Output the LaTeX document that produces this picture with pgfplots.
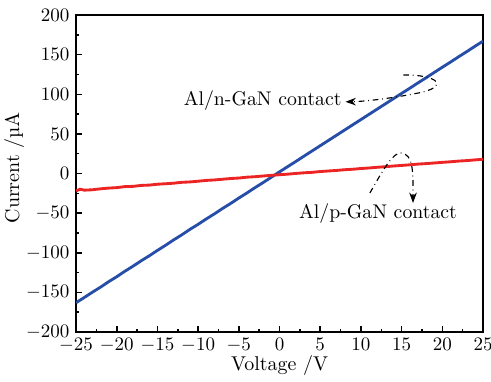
\documentclass[border=0pt]{standalone}
\usepackage{fontspec}
\usepackage{pgfplots}
\pgfplotsset{compat=1.18}
\usetikzlibrary{arrows.meta}
\definecolor{myblue}{RGB}{38,78,168}
\definecolor{myred}{RGB}{236,36,36}
\begin{document}
\begin{tikzpicture}
\begin{axis}[name=ax,
  scale only axis, width=214pt, height=166.7pt,
  xmin=-25, xmax=25, ymin=-200, ymax=200,
  xtick={-25,-20,...,25}, ytick={-200,-150,...,200},
  minor x tick num=1, minor y tick num=1,
  tick align=inside, xtick pos=left, ytick pos=left,
  major tick length=3pt, minor tick length=1.8pt,
  axis line style={line width=1pt}, every tick/.style={line width=0.8pt,black},
  xlabel={Voltage /V}, ylabel={Current /µA},
  label style={font=\fontsize{10.5}{12}\selectfont},
  xlabel style={at={([yshift=-20.3pt]axis description cs:0.5,0)}, anchor=base, inner sep=1pt},
  ylabel style={at={([xshift=-32.6pt,yshift=3pt]axis description cs:0,0.5)}, anchor=center},
  tick label style={font=\fontsize{10.4}{12}\selectfont},
  xticklabel style={yshift=-1.2pt, inner sep=2pt},
]
\addplot[myblue, line width=1.5pt] coordinates {
(-25,-163) (-24,-156.5) (-23,-149.8) (-22,-143.4) (-21,-136.5) (-20,-130.2) (-19,-123.3) (-18,-116.9) (-17,-110.1) (-16,-103.8) (-15,-97) (-14,-90.5) (-13,-83.7) (-12,-77.3) (-11,-70.4) (-10,-64.1) (-9,-57.3) (-8,-50.9) (-7,-44.1) (-6,-37.7) (-5,-30.9) (-4,-24.5) (-3,-17.7) (-2,-11.3) (-1,-4.6) (0,2.1) (1,8.7) (2,15.2) (3,21.9) (4,28.5) (5,35.1) (6,41.7) (7,48.3) (8,54.9) (9,61.5) (10,68.1) (11,74.7) (12,81.3) (13,87.9) (14,94.5) (15,101.1) (16,107.6) (17,114.3) (18,120.8) (19,127.5) (20,134.1) (21,140.6) (22,147.3) (23,153.8) (24,160.5) (25,167)
};
\addplot[myred, line width=1.5pt] coordinates {
(-25,-22) (-24.5,-19.8) (-24,-21) (-23,-20.5) (-22,-19.3) (-21,-18.4) (-20,-17.8) (-19,-16.5) (-18,-16.2) (-17,-15) (-16,-14.6) (-15,-13.5) (-14,-12.9) (-13,-12.2) (-12,-11.1) (-11,-10.6) (-10,-9.7) (-9,-8.7) (-8,-8.1) (-7,-7.2) (-6,-6.3) (-5,-5.7) (-4,-4.6) (-3,-4.0) (-2,-3.1) (-1,-2.3) (0,-1.5) (1,-0.8) (2,0.1) (3,0.9) (4,1.5) (5,2.5) (6,3.2) (7,3.9) (8,4.8) (9,5.4) (10,6.3) (11,7.0) (12,7.9) (13,8.6) (14,9.5) (15,10.2) (16,11.0) (17,11.9) (18,12.5) (19,13.3) (20,14.1) (21,14.8) (22,15.7) (23,16.3) (24,17.2) (25,18)
};
\node[anchor=east, inner sep=1pt, font=\fontsize{10.4}{12}\selectfont] at (axis cs:7.9,91.5) {Al/n-GaN contact};
\draw[dash dot, line width=0.6pt, -{Stealth[length=5.5pt,width=4pt]}]
  (axis cs:15.2,124.3) .. controls (axis cs:19,125) and (axis cs:21,112) .. (axis cs:17.6,102.8)
  .. controls (axis cs:15,97) and (axis cs:11,91) .. (axis cs:8.1,90.5);
\node[font=\fontsize{10.4}{12}\selectfont] at (axis cs:12.1,-50.2) {Al/p-GaN contact};
\draw[dash dot, line width=0.6pt, -{Stealth[length=5.5pt,width=4pt]}]
  (axis cs:11.1,-24.6) .. controls (axis cs:13,10) and (axis cs:14,26) .. (axis cs:14.9,25.9)
  .. controls (axis cs:16.5,25) and (axis cs:16.4,0) .. (axis cs:16.4,-37.2);
\end{axis}
\pgfresetboundingbox
\path ([xshift=-40pt,yshift=7.9pt]ax.north west) rectangle ([xshift=4.2pt,yshift=-25.8pt]ax.south east);
\end{tikzpicture}
\end{document}
